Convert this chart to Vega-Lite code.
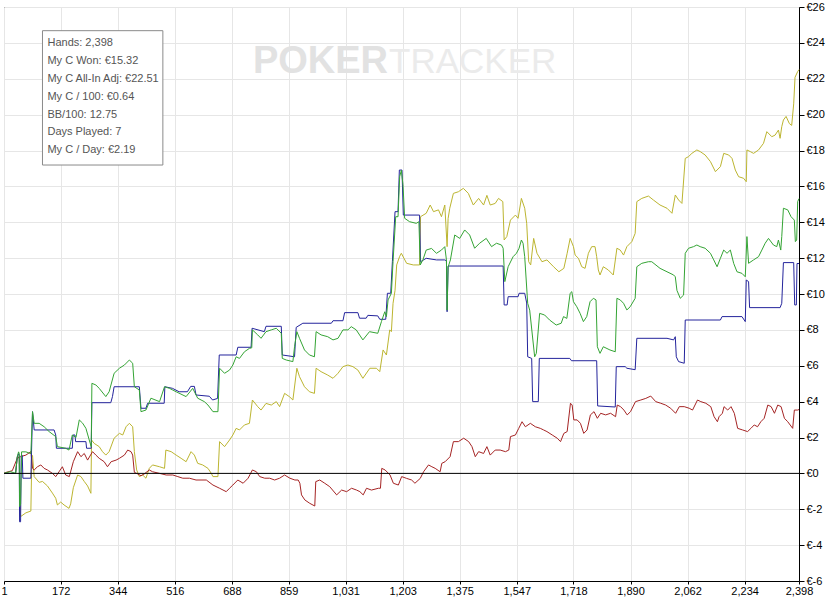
{
  "$schema": "https://vega.github.io/schema/vega-lite/v6.json",
  "width": 795,
  "height": 574,
  "autosize": "none",
  "padding": {"left": 4, "top": 7, "right": 28, "bottom": 21},
  "background": "white",
  "config": {
    "view": {"stroke": "black", "strokeWidth": 1},
    "font": "Liberation Sans",
    "axis": {"labelOverlap": false}
  },
  "resolve": {"axis": {"x": "independent", "y": "independent"}},
  "layer": [
    {
      "data": {
        "values": [
          {"s":"ev","h":1,"v":0},{"s":"ev","h":36,"v":0},{"s":"ev","h":41,"v":0.93},{"s":"ev","h":47,"v":0.9},{"s":"ev","h":51,"v":-2.41},{"s":"ev","h":67,"v":-2.2},{"s":"ev","h":82,"v":-2.1},{"s":"ev","h":85,"v":1.0},{"s":"ev","h":87,"v":1.0},{"s":"ev","h":92,"v":-0.18},{"s":"ev","h":107,"v":-0.5},{"s":"ev","h":117,"v":-0.45},{"s":"ev","h":132,"v":-0.7},{"s":"ev","h":147,"v":-1.1},{"s":"ev","h":157,"v":-1.39},{"s":"ev","h":162,"v":-1.76},{"s":"ev","h":172,"v":-1.6},{"s":"ev","h":182,"v":-1.76},{"s":"ev","h":197,"v":-1.95},{"s":"ev","h":202,"v":-1.7},{"s":"ev","h":210,"v":-0.8},{"s":"ev","h":223,"v":-0.09},{"s":"ev","h":233,"v":-0.18},{"s":"ev","h":243,"v":-0.45},{"s":"ev","h":253,"v":-0.7},{"s":"ev","h":263,"v":-1.11},{"s":"ev","h":265,"v":1.86},{"s":"ev","h":273,"v":1.67},{"s":"ev","h":288,"v":1.49},{"s":"ev","h":298,"v":1.21},{"s":"ev","h":308,"v":1.02},{"s":"ev","h":318,"v":1.21},{"s":"ev","h":333,"v":1.96},{"s":"ev","h":349,"v":2.23},{"s":"ev","h":359,"v":2.14},{"s":"ev","h":369,"v":2.6},{"s":"ev","h":379,"v":2.79},{"s":"ev","h":389,"v":2.6},{"s":"ev","h":394,"v":1.21},{"s":"ev","h":401,"v":0.19},{"s":"ev","h":409,"v":-0.18},{"s":"ev","h":419,"v":-0.09},{"s":"ev","h":429,"v":-0.27},{"s":"ev","h":439,"v":0.28},{"s":"ev","h":449,"v":0.47},{"s":"ev","h":470,"v":0.37},{"s":"ev","h":485,"v":0.28},{"s":"ev","h":489,"v":1.3},{"s":"ev","h":505,"v":1.21},{"s":"ev","h":520,"v":1.02},{"s":"ev","h":535,"v":0.84},{"s":"ev","h":550,"v":0.65},{"s":"ev","h":565,"v":1.21},{"s":"ev","h":575,"v":1.02},{"s":"ev","h":585,"v":0.56},{"s":"ev","h":600,"v":0.47},{"s":"ev","h":616,"v":0.28},{"s":"ev","h":626,"v":0.0},{"s":"ev","h":631,"v":-0.18},{"s":"ev","h":646,"v":-0.18},{"s":"ev","h":651,"v":1.77},{"s":"ev","h":666,"v":1.49},{"s":"ev","h":681,"v":1.86},{"s":"ev","h":691,"v":2.14},{"s":"ev","h":701,"v":2.51},{"s":"ev","h":711,"v":2.42},{"s":"ev","h":726,"v":2.7},{"s":"ev","h":741,"v":2.79},{"s":"ev","h":750,"v":4.09},{"s":"ev","h":766,"v":3.72},{"s":"ev","h":776,"v":3.53},{"s":"ev","h":791,"v":3.9},{"s":"ev","h":807,"v":3.81},{"s":"ev","h":822,"v":4.0},{"s":"ev","h":832,"v":3.72},{"s":"ev","h":847,"v":4.46},{"s":"ev","h":862,"v":4.27},{"s":"ev","h":872,"v":4.09},{"s":"ev","h":884,"v":5.86},{"s":"ev","h":892,"v":5.39},{"s":"ev","h":907,"v":4.83},{"s":"ev","h":922,"v":4.55},{"s":"ev","h":937,"v":4.46},{"s":"ev","h":942,"v":5.86},{"s":"ev","h":957,"v":5.67},{"s":"ev","h":977,"v":5.48},{"s":"ev","h":993,"v":5.3},{"s":"ev","h":1008,"v":5.58},{"s":"ev","h":1023,"v":5.95},{"s":"ev","h":1038,"v":6.04},{"s":"ev","h":1053,"v":5.95},{"s":"ev","h":1068,"v":5.76},{"s":"ev","h":1083,"v":5.3},{"s":"ev","h":1104,"v":5.86},{"s":"ev","h":1124,"v":5.86},{"s":"ev","h":1134,"v":5.67},{"s":"ev","h":1144,"v":6.88},{"s":"ev","h":1154,"v":6.6},{"s":"ev","h":1164,"v":8.0},{"s":"ev","h":1169,"v":7.9},{"s":"ev","h":1174,"v":9.48},{"s":"ev","h":1180,"v":10.2},{"s":"ev","h":1185,"v":11.62},{"s":"ev","h":1194,"v":12.1},{"s":"ev","h":1199,"v":12.27},{"s":"ev","h":1215,"v":11.71},{"s":"ev","h":1235,"v":11.62},{"s":"ev","h":1254,"v":11.62},{"s":"ev","h":1257,"v":14.31},{"s":"ev","h":1274,"v":14.5},{"s":"ev","h":1286,"v":14.96},{"s":"ev","h":1296,"v":14.59},{"s":"ev","h":1311,"v":14.69},{"s":"ev","h":1320,"v":14.31},{"s":"ev","h":1330,"v":14.96},{"s":"ev","h":1337,"v":12.64},{"s":"ev","h":1340,"v":14.2},{"s":"ev","h":1345,"v":14.78},{"s":"ev","h":1356,"v":15.61},{"s":"ev","h":1371,"v":15.7},{"s":"ev","h":1386,"v":15.89},{"s":"ev","h":1401,"v":15.61},{"s":"ev","h":1416,"v":14.96},{"s":"ev","h":1432,"v":15.33},{"s":"ev","h":1447,"v":14.96},{"s":"ev","h":1457,"v":15.5},{"s":"ev","h":1467,"v":14.96},{"s":"ev","h":1482,"v":15.05},{"s":"ev","h":1492,"v":15.33},{"s":"ev","h":1505,"v":15.15},{"s":"ev","h":1509,"v":13.01},{"s":"ev","h":1517,"v":13.2},{"s":"ev","h":1528,"v":14.12},{"s":"ev","h":1543,"v":14.4},{"s":"ev","h":1551,"v":14.22},{"s":"ev","h":1561,"v":15.33},{"s":"ev","h":1571,"v":14.78},{"s":"ev","h":1577,"v":13.94},{"s":"ev","h":1583,"v":11.8},{"s":"ev","h":1589,"v":11.62},{"s":"ev","h":1598,"v":13.1},{"s":"ev","h":1608,"v":12.27},{"s":"ev","h":1623,"v":11.8},{"s":"ev","h":1638,"v":11.9},{"s":"ev","h":1658,"v":11.52},{"s":"ev","h":1674,"v":11.24},{"s":"ev","h":1689,"v":11.43},{"s":"ev","h":1699,"v":12.27},{"s":"ev","h":1708,"v":13.1},{"s":"ev","h":1718,"v":12.64},{"s":"ev","h":1723,"v":12.17},{"s":"ev","h":1733,"v":11.99},{"s":"ev","h":1743,"v":11.52},{"s":"ev","h":1753,"v":11.43},{"s":"ev","h":1763,"v":12.27},{"s":"ev","h":1773,"v":12.64},{"s":"ev","h":1783,"v":12.64},{"s":"ev","h":1788,"v":12.08},{"s":"ev","h":1793,"v":11.34},{"s":"ev","h":1798,"v":11.06},{"s":"ev","h":1808,"v":11.52},{"s":"ev","h":1823,"v":11.34},{"s":"ev","h":1838,"v":11.06},{"s":"ev","h":1849,"v":12.55},{"s":"ev","h":1859,"v":12.45},{"s":"ev","h":1869,"v":12.17},{"s":"ev","h":1879,"v":12.64},{"s":"ev","h":1894,"v":12.92},{"s":"ev","h":1904,"v":13.38},{"s":"ev","h":1909,"v":15.15},{"s":"ev","h":1924,"v":15.33},{"s":"ev","h":1944,"v":15.46},{"s":"ev","h":1959,"v":15.24},{"s":"ev","h":1979,"v":14.96},{"s":"ev","h":2000,"v":14.78},{"s":"ev","h":2015,"v":14.5},{"s":"ev","h":2025,"v":15.52},{"s":"ev","h":2035,"v":15.24},{"s":"ev","h":2045,"v":15.05},{"s":"ev","h":2055,"v":17.56},{"s":"ev","h":2065,"v":17.66},{"s":"ev","h":2075,"v":17.84},{"s":"ev","h":2090,"v":18.03},{"s":"ev","h":2100,"v":17.94},{"s":"ev","h":2115,"v":17.75},{"s":"ev","h":2131,"v":17.38},{"s":"ev","h":2146,"v":16.82},{"s":"ev","h":2161,"v":17.1},{"s":"ev","h":2171,"v":17.84},{"s":"ev","h":2186,"v":17.75},{"s":"ev","h":2196,"v":17.56},{"s":"ev","h":2206,"v":16.91},{"s":"ev","h":2216,"v":16.54},{"s":"ev","h":2231,"v":16.45},{"s":"ev","h":2239,"v":16.26},{"s":"ev","h":2241,"v":18.03},{"s":"ev","h":2251,"v":17.94},{"s":"ev","h":2261,"v":17.84},{"s":"ev","h":2276,"v":18.03},{"s":"ev","h":2291,"v":18.4},{"s":"ev","h":2301,"v":19.05},{"s":"ev","h":2316,"v":18.77},{"s":"ev","h":2326,"v":18.86},{"s":"ev","h":2336,"v":19.14},{"s":"ev","h":2341,"v":18.68},{"s":"ev","h":2346,"v":19.33},{"s":"ev","h":2351,"v":19.7},{"s":"ev","h":2359,"v":19.9},{"s":"ev","h":2369,"v":19.5},{"s":"ev","h":2376,"v":19.4},{"s":"ev","h":2382,"v":20.6},{"s":"ev","h":2386,"v":22.08},{"s":"ev","h":2394,"v":22.4},{"s":"ev","h":2398,"v":22.51},

          {"s":"nsd","h":1,"v":0},{"s":"nsd","h":6,"v":0.05},{"s":"nsd","h":26,"v":0.15},{"s":"nsd","h":41,"v":0.84},{"s":"nsd","h":51,"v":0.93},{"s":"nsd","h":67,"v":1.02},{"s":"nsd","h":82,"v":1.21},{"s":"nsd","h":87,"v":0.28},{"s":"nsd","h":92,"v":0.19},{"s":"nsd","h":102,"v":0.37},{"s":"nsd","h":112,"v":0.47},{"s":"nsd","h":122,"v":0.28},{"s":"nsd","h":132,"v":0.19},{"s":"nsd","h":147,"v":0.0},{"s":"nsd","h":157,"v":-0.18},{"s":"nsd","h":167,"v":0.09},{"s":"nsd","h":177,"v":0.37},{"s":"nsd","h":187,"v":-0.09},{"s":"nsd","h":198,"v":-0.18},{"s":"nsd","h":210,"v":0.65},{"s":"nsd","h":223,"v":1.21},{"s":"nsd","h":233,"v":0.93},{"s":"nsd","h":243,"v":1.11},{"s":"nsd","h":253,"v":0.74},{"s":"nsd","h":268,"v":1.21},{"s":"nsd","h":278,"v":1.02},{"s":"nsd","h":288,"v":0.84},{"s":"nsd","h":303,"v":0.65},{"s":"nsd","h":313,"v":0.37},{"s":"nsd","h":324,"v":0.65},{"s":"nsd","h":339,"v":0.74},{"s":"nsd","h":349,"v":0.84},{"s":"nsd","h":364,"v":1.02},{"s":"nsd","h":374,"v":1.3},{"s":"nsd","h":384,"v":1.21},{"s":"nsd","h":389,"v":1.02},{"s":"nsd","h":394,"v":0.06},{"s":"nsd","h":404,"v":-0.03},{"s":"nsd","h":414,"v":-0.13},{"s":"nsd","h":424,"v":-0.03},{"s":"nsd","h":439,"v":0.19},{"s":"nsd","h":449,"v":0.09},{"s":"nsd","h":470,"v":0.0},{"s":"nsd","h":490,"v":-0.09},{"s":"nsd","h":510,"v":-0.09},{"s":"nsd","h":525,"v":-0.18},{"s":"nsd","h":540,"v":-0.27},{"s":"nsd","h":560,"v":-0.27},{"s":"nsd","h":580,"v":-0.37},{"s":"nsd","h":601,"v":-0.37},{"s":"nsd","h":611,"v":-0.37},{"s":"nsd","h":631,"v":-0.65},{"s":"nsd","h":651,"v":-0.83},{"s":"nsd","h":671,"v":-1.02},{"s":"nsd","h":681,"v":-0.83},{"s":"nsd","h":691,"v":-0.65},{"s":"nsd","h":706,"v":-0.37},{"s":"nsd","h":722,"v":-0.55},{"s":"nsd","h":737,"v":-0.27},{"s":"nsd","h":750,"v":0.19},{"s":"nsd","h":762,"v":0.09},{"s":"nsd","h":772,"v":-0.18},{"s":"nsd","h":787,"v":-0.27},{"s":"nsd","h":802,"v":-0.27},{"s":"nsd","h":817,"v":-0.37},{"s":"nsd","h":832,"v":-0.27},{"s":"nsd","h":847,"v":-0.09},{"s":"nsd","h":863,"v":-0.27},{"s":"nsd","h":878,"v":-0.37},{"s":"nsd","h":888,"v":-0.37},{"s":"nsd","h":893,"v":-0.55},{"s":"nsd","h":898,"v":-1.2},{"s":"nsd","h":908,"v":-1.48},{"s":"nsd","h":923,"v":-1.67},{"s":"nsd","h":938,"v":-1.82},{"s":"nsd","h":941,"v":-0.46},{"s":"nsd","h":953,"v":-0.37},{"s":"nsd","h":968,"v":-0.55},{"s":"nsd","h":983,"v":-0.74},{"s":"nsd","h":1004,"v":-1.2},{"s":"nsd","h":1019,"v":-0.93},{"s":"nsd","h":1034,"v":-1.02},{"s":"nsd","h":1049,"v":-0.83},{"s":"nsd","h":1064,"v":-0.93},{"s":"nsd","h":1074,"v":-1.02},{"s":"nsd","h":1084,"v":-1.2},{"s":"nsd","h":1094,"v":-0.83},{"s":"nsd","h":1109,"v":-0.93},{"s":"nsd","h":1130,"v":-0.83},{"s":"nsd","h":1136,"v":-0.83},{"s":"nsd","h":1140,"v":0.28},{"s":"nsd","h":1150,"v":0.19},{"s":"nsd","h":1165,"v":-0.09},{"s":"nsd","h":1175,"v":-0.55},{"s":"nsd","h":1190,"v":-0.65},{"s":"nsd","h":1200,"v":-0.18},{"s":"nsd","h":1215,"v":-0.28},{"s":"nsd","h":1230,"v":-0.37},{"s":"nsd","h":1240,"v":-0.55},{"s":"nsd","h":1256,"v":-0.28},{"s":"nsd","h":1266,"v":0.09},{"s":"nsd","h":1281,"v":0.47},{"s":"nsd","h":1291,"v":0.37},{"s":"nsd","h":1301,"v":0.28},{"s":"nsd","h":1316,"v":0.09},{"s":"nsd","h":1321,"v":0.56},{"s":"nsd","h":1331,"v":0.65},{"s":"nsd","h":1346,"v":0.93},{"s":"nsd","h":1356,"v":1.77},{"s":"nsd","h":1371,"v":1.77},{"s":"nsd","h":1387,"v":1.96},{"s":"nsd","h":1402,"v":1.77},{"s":"nsd","h":1412,"v":1.49},{"s":"nsd","h":1422,"v":0.93},{"s":"nsd","h":1432,"v":1.21},{"s":"nsd","h":1447,"v":1.11},{"s":"nsd","h":1457,"v":1.49},{"s":"nsd","h":1467,"v":1.02},{"s":"nsd","h":1482,"v":1.3},{"s":"nsd","h":1497,"v":1.3},{"s":"nsd","h":1513,"v":1.21},{"s":"nsd","h":1523,"v":1.3},{"s":"nsd","h":1528,"v":2.05},{"s":"nsd","h":1543,"v":2.14},{"s":"nsd","h":1553,"v":2.51},{"s":"nsd","h":1563,"v":2.88},{"s":"nsd","h":1573,"v":2.6},{"s":"nsd","h":1588,"v":2.79},{"s":"nsd","h":1603,"v":2.6},{"s":"nsd","h":1618,"v":2.51},{"s":"nsd","h":1628,"v":2.42},{"s":"nsd","h":1638,"v":2.33},{"s":"nsd","h":1654,"v":2.14},{"s":"nsd","h":1669,"v":1.96},{"s":"nsd","h":1679,"v":1.77},{"s":"nsd","h":1689,"v":2.23},{"s":"nsd","h":1699,"v":2.33},{"s":"nsd","h":1709,"v":3.91},{"s":"nsd","h":1714,"v":3.81},{"s":"nsd","h":1719,"v":2.98},{"s":"nsd","h":1729,"v":2.98},{"s":"nsd","h":1739,"v":2.79},{"s":"nsd","h":1749,"v":2.23},{"s":"nsd","h":1759,"v":2.42},{"s":"nsd","h":1769,"v":3.26},{"s":"nsd","h":1780,"v":3.44},{"s":"nsd","h":1790,"v":3.07},{"s":"nsd","h":1800,"v":3.35},{"s":"nsd","h":1815,"v":3.26},{"s":"nsd","h":1830,"v":3.35},{"s":"nsd","h":1845,"v":3.16},{"s":"nsd","h":1850,"v":3.81},{"s":"nsd","h":1860,"v":3.72},{"s":"nsd","h":1870,"v":3.53},{"s":"nsd","h":1880,"v":3.26},{"s":"nsd","h":1890,"v":3.44},{"s":"nsd","h":1905,"v":4.0},{"s":"nsd","h":1921,"v":4.09},{"s":"nsd","h":1936,"v":4.18},{"s":"nsd","h":1951,"v":4.31},{"s":"nsd","h":1966,"v":4.0},{"s":"nsd","h":1981,"v":3.91},{"s":"nsd","h":1996,"v":3.81},{"s":"nsd","h":2011,"v":3.63},{"s":"nsd","h":2026,"v":3.35},{"s":"nsd","h":2037,"v":3.72},{"s":"nsd","h":2052,"v":3.72},{"s":"nsd","h":2067,"v":3.63},{"s":"nsd","h":2077,"v":3.53},{"s":"nsd","h":2092,"v":4.09},{"s":"nsd","h":2102,"v":4.0},{"s":"nsd","h":2117,"v":3.91},{"s":"nsd","h":2132,"v":3.72},{"s":"nsd","h":2142,"v":3.16},{"s":"nsd","h":2152,"v":2.88},{"s":"nsd","h":2157,"v":3.16},{"s":"nsd","h":2167,"v":3.35},{"s":"nsd","h":2172,"v":3.72},{"s":"nsd","h":2183,"v":3.53},{"s":"nsd","h":2193,"v":3.72},{"s":"nsd","h":2203,"v":3.35},{"s":"nsd","h":2213,"v":2.51},{"s":"nsd","h":2228,"v":2.42},{"s":"nsd","h":2243,"v":2.33},{"s":"nsd","h":2253,"v":2.51},{"s":"nsd","h":2263,"v":2.7},{"s":"nsd","h":2273,"v":2.6},{"s":"nsd","h":2283,"v":2.88},{"s":"nsd","h":2293,"v":3.07},{"s":"nsd","h":2304,"v":3.81},{"s":"nsd","h":2314,"v":3.72},{"s":"nsd","h":2324,"v":3.35},{"s":"nsd","h":2334,"v":3.81},{"s":"nsd","h":2344,"v":3.72},{"s":"nsd","h":2354,"v":3.07},{"s":"nsd","h":2364,"v":2.88},{"s":"nsd","h":2379,"v":2.51},{"s":"nsd","h":2384,"v":3.53},{"s":"nsd","h":2394,"v":3.53},{"s":"nsd","h":2398,"v":3.56},

          {"s":"sd","h":1,"v":0},{"s":"sd","h":36,"v":0},{"s":"sd","h":41,"v":0.9},{"s":"sd","h":45,"v":1.1},{"s":"sd","h":47,"v":1.0},{"s":"sd","h":48,"v":-2.7},{"s":"sd","h":51,"v":-2.7},{"s":"sd","h":53,"v":1.0},{"s":"sd","h":56,"v":1.0},{"s":"sd","h":58,"v":-0.27},{"s":"sd","h":82,"v":-0.27},{"s":"sd","h":87,"v":3.44},{"s":"sd","h":92,"v":2.42},{"s":"sd","h":152,"v":2.42},{"s":"sd","h":157,"v":2.14},{"s":"sd","h":159,"v":1.4},{"s":"sd","h":207,"v":1.4},{"s":"sd","h":209,"v":2.14},{"s":"sd","h":215,"v":2.14},{"s":"sd","h":217,"v":1.77},{"s":"sd","h":248,"v":1.77},{"s":"sd","h":250,"v":1.4},{"s":"sd","h":264,"v":1.4},{"s":"sd","h":266,"v":3.94},{"s":"sd","h":323,"v":3.94},{"s":"sd","h":328,"v":4.28},{"s":"sd","h":333,"v":4.83},{"s":"sd","h":409,"v":4.83},{"s":"sd","h":414,"v":3.63},{"s":"sd","h":429,"v":3.63},{"s":"sd","h":434,"v":3.91},{"s":"sd","h":484,"v":3.91},{"s":"sd","h":486,"v":4.83},{"s":"sd","h":509,"v":4.74},{"s":"sd","h":529,"v":4.55},{"s":"sd","h":554,"v":4.55},{"s":"sd","h":564,"v":4.85},{"s":"sd","h":575,"v":4.85},{"s":"sd","h":580,"v":4.37},{"s":"sd","h":620,"v":4.3},{"s":"sd","h":630,"v":4.09},{"s":"sd","h":645,"v":4.18},{"s":"sd","h":650,"v":6.6},{"s":"sd","h":701,"v":6.6},{"s":"sd","h":706,"v":7.03},{"s":"sd","h":746,"v":7.03},{"s":"sd","h":749,"v":8.09},{"s":"sd","h":786,"v":7.9},{"s":"sd","h":791,"v":8.2},{"s":"sd","h":837,"v":8.2},{"s":"sd","h":840,"v":6.6},{"s":"sd","h":877,"v":6.5},{"s":"sd","h":882,"v":8.14},{"s":"sd","h":902,"v":8.37},{"s":"sd","h":988,"v":8.37},{"s":"sd","h":993,"v":8.51},{"s":"sd","h":1023,"v":8.51},{"s":"sd","h":1028,"v":8.96},{"s":"sd","h":1068,"v":8.96},{"s":"sd","h":1073,"v":8.65},{"s":"sd","h":1093,"v":8.65},{"s":"sd","h":1098,"v":8.81},{"s":"sd","h":1128,"v":8.78},{"s":"sd","h":1134,"v":8.59},{"s":"sd","h":1152,"v":8.59},{"s":"sd","h":1157,"v":10.04},{"s":"sd","h":1167,"v":10.04},{"s":"sd","h":1172,"v":11.8},{"s":"sd","h":1180,"v":14.59},{"s":"sd","h":1189,"v":14.59},{"s":"sd","h":1193,"v":16.91},{"s":"sd","h":1201,"v":16.91},{"s":"sd","h":1205,"v":14.4},{"s":"sd","h":1254,"v":14.4},{"s":"sd","h":1257,"v":11.8},{"s":"sd","h":1274,"v":11.99},{"s":"sd","h":1305,"v":11.9},{"s":"sd","h":1330,"v":11.9},{"s":"sd","h":1335,"v":11.85},{"s":"sd","h":1337,"v":9.01},{"s":"sd","h":1340,"v":11.56},{"s":"sd","h":1506,"v":11.56},{"s":"sd","h":1509,"v":9.39},{"s":"sd","h":1518,"v":9.39},{"s":"sd","h":1521,"v":9.85},{"s":"sd","h":1551,"v":9.85},{"s":"sd","h":1554,"v":10.04},{"s":"sd","h":1571,"v":10.04},{"s":"sd","h":1577,"v":9.5},{"s":"sd","h":1580,"v":6.5},{"s":"sd","h":1592,"v":6.41},{"s":"sd","h":1595,"v":4.0},{"s":"sd","h":1612,"v":4.0},{"s":"sd","h":1615,"v":6.41},{"s":"sd","h":1707,"v":6.41},{"s":"sd","h":1712,"v":6.28},{"s":"sd","h":1788,"v":6.28},{"s":"sd","h":1791,"v":3.76},{"s":"sd","h":1844,"v":3.7},{"s":"sd","h":1847,"v":5.95},{"s":"sd","h":1874,"v":5.95},{"s":"sd","h":1879,"v":5.86},{"s":"sd","h":1904,"v":5.78},{"s":"sd","h":1909,"v":7.53},{"s":"sd","h":2000,"v":7.53},{"s":"sd","h":2020,"v":7.44},{"s":"sd","h":2025,"v":7.62},{"s":"sd","h":2028,"v":6.5},{"s":"sd","h":2035,"v":6.23},{"s":"sd","h":2052,"v":6.14},{"s":"sd","h":2055,"v":8.55},{"s":"sd","h":2161,"v":8.55},{"s":"sd","h":2166,"v":8.74},{"s":"sd","h":2226,"v":8.74},{"s":"sd","h":2236,"v":8.46},{"s":"sd","h":2239,"v":10.78},{"s":"sd","h":2246,"v":10.69},{"s":"sd","h":2249,"v":9.24},{"s":"sd","h":2341,"v":9.24},{"s":"sd","h":2346,"v":9.48},{"s":"sd","h":2351,"v":11.75},{"s":"sd","h":2382,"v":11.75},{"s":"sd","h":2385,"v":9.39},{"s":"sd","h":2390,"v":9.39},{"s":"sd","h":2392,"v":11.7},{"s":"sd","h":2398,"v":11.7},

          {"s":"won","h":1,"v":0},{"s":"won","h":20,"v":0.1},{"s":"won","h":36,"v":0},{"s":"won","h":41,"v":0.93},{"s":"won","h":45,"v":1.2},{"s":"won","h":47,"v":1.1},{"s":"won","h":48,"v":-1.85},{"s":"won","h":51,"v":-1.7},{"s":"won","h":54,"v":1.2},{"s":"won","h":67,"v":1.2},{"s":"won","h":82,"v":1.1},{"s":"won","h":87,"v":3.44},{"s":"won","h":92,"v":2.79},{"s":"won","h":107,"v":2.79},{"s":"won","h":122,"v":2.6},{"s":"won","h":137,"v":2.33},{"s":"won","h":157,"v":2.05},{"s":"won","h":162,"v":1.49},{"s":"won","h":187,"v":1.4},{"s":"won","h":197,"v":1.3},{"s":"won","h":207,"v":2.14},{"s":"won","h":218,"v":2.0},{"s":"won","h":228,"v":2.98},{"s":"won","h":238,"v":2.8},{"s":"won","h":248,"v":2.51},{"s":"won","h":258,"v":1.86},{"s":"won","h":264,"v":1.49},{"s":"won","h":266,"v":5.02},{"s":"won","h":278,"v":4.93},{"s":"won","h":288,"v":4.74},{"s":"won","h":308,"v":4.28},{"s":"won","h":318,"v":4.55},{"s":"won","h":333,"v":5.58},{"s":"won","h":349,"v":5.86},{"s":"won","h":364,"v":6.04},{"s":"won","h":379,"v":6.32},{"s":"won","h":389,"v":6.14},{"s":"won","h":394,"v":4.83},{"s":"won","h":409,"v":4.65},{"s":"won","h":414,"v":3.44},{"s":"won","h":429,"v":3.53},{"s":"won","h":444,"v":4.19},{"s":"won","h":470,"v":4.0},{"s":"won","h":485,"v":4.83},{"s":"won","h":500,"v":4.74},{"s":"won","h":520,"v":4.55},{"s":"won","h":550,"v":4.28},{"s":"won","h":570,"v":4.74},{"s":"won","h":585,"v":4.19},{"s":"won","h":605,"v":4.0},{"s":"won","h":616,"v":3.81},{"s":"won","h":631,"v":3.44},{"s":"won","h":646,"v":3.44},{"s":"won","h":651,"v":5.86},{"s":"won","h":666,"v":5.58},{"s":"won","h":681,"v":5.76},{"s":"won","h":691,"v":6.04},{"s":"won","h":701,"v":6.5},{"s":"won","h":711,"v":6.41},{"s":"won","h":726,"v":6.78},{"s":"won","h":741,"v":6.97},{"s":"won","h":748,"v":7.0},{"s":"won","h":750,"v":8.0},{"s":"won","h":766,"v":7.72},{"s":"won","h":776,"v":7.53},{"s":"won","h":791,"v":7.9},{"s":"won","h":807,"v":8.0},{"s":"won","h":822,"v":8.09},{"s":"won","h":837,"v":7.81},{"s":"won","h":840,"v":6.41},{"s":"won","h":852,"v":6.32},{"s":"won","h":872,"v":6.23},{"s":"won","h":877,"v":7.06},{"s":"won","h":884,"v":7.9},{"s":"won","h":892,"v":7.53},{"s":"won","h":907,"v":6.88},{"s":"won","h":922,"v":6.6},{"s":"won","h":937,"v":6.5},{"s":"won","h":942,"v":7.9},{"s":"won","h":957,"v":7.72},{"s":"won","h":977,"v":7.62},{"s":"won","h":993,"v":7.44},{"s":"won","h":1008,"v":7.53},{"s":"won","h":1023,"v":8.0},{"s":"won","h":1038,"v":8.0},{"s":"won","h":1048,"v":8.18},{"s":"won","h":1063,"v":8.0},{"s":"won","h":1083,"v":7.44},{"s":"won","h":1103,"v":7.9},{"s":"won","h":1128,"v":7.81},{"s":"won","h":1139,"v":8.46},{"s":"won","h":1149,"v":9.01},{"s":"won","h":1154,"v":8.74},{"s":"won","h":1159,"v":9.67},{"s":"won","h":1169,"v":10.04},{"s":"won","h":1174,"v":11.8},{"s":"won","h":1182,"v":14.31},{"s":"won","h":1189,"v":14.31},{"s":"won","h":1194,"v":16.54},{"s":"won","h":1199,"v":16.9},{"s":"won","h":1204,"v":16.1},{"s":"won","h":1209,"v":14.22},{"s":"won","h":1224,"v":14.03},{"s":"won","h":1244,"v":13.94},{"s":"won","h":1252,"v":14.03},{"s":"won","h":1256,"v":11.62},{"s":"won","h":1264,"v":11.9},{"s":"won","h":1274,"v":12.45},{"s":"won","h":1290,"v":12.54},{"s":"won","h":1305,"v":12.27},{"s":"won","h":1320,"v":12.45},{"s":"won","h":1330,"v":12.64},{"s":"won","h":1335,"v":11.9},{"s":"won","h":1337,"v":9.1},{"s":"won","h":1340,"v":11.5},{"s":"won","h":1347,"v":11.9},{"s":"won","h":1360,"v":13.29},{"s":"won","h":1375,"v":13.1},{"s":"won","h":1390,"v":13.57},{"s":"won","h":1405,"v":13.29},{"s":"won","h":1420,"v":12.55},{"s":"won","h":1435,"v":12.83},{"s":"won","h":1455,"v":13.1},{"s":"won","h":1471,"v":12.64},{"s":"won","h":1486,"v":12.83},{"s":"won","h":1501,"v":12.73},{"s":"won","h":1506,"v":12.55},{"s":"won","h":1511,"v":10.69},{"s":"won","h":1521,"v":11.52},{"s":"won","h":1536,"v":12.08},{"s":"won","h":1546,"v":12.27},{"s":"won","h":1554,"v":12.55},{"s":"won","h":1561,"v":13.01},{"s":"won","h":1566,"v":12.83},{"s":"won","h":1571,"v":12.08},{"s":"won","h":1580,"v":9.48},{"s":"won","h":1586,"v":9.1},{"s":"won","h":1601,"v":6.5},{"s":"won","h":1606,"v":6.69},{"s":"won","h":1616,"v":8.92},{"s":"won","h":1631,"v":8.83},{"s":"won","h":1646,"v":8.55},{"s":"won","h":1666,"v":8.27},{"s":"won","h":1681,"v":8.37},{"s":"won","h":1688,"v":8.74},{"s":"won","h":1698,"v":8.64},{"s":"won","h":1708,"v":10.04},{"s":"won","h":1713,"v":10.13},{"s":"won","h":1718,"v":9.57},{"s":"won","h":1728,"v":9.29},{"s":"won","h":1738,"v":8.92},{"s":"won","h":1748,"v":8.46},{"s":"won","h":1758,"v":8.74},{"s":"won","h":1768,"v":9.57},{"s":"won","h":1778,"v":9.76},{"s":"won","h":1786,"v":9.67},{"s":"won","h":1790,"v":7.06},{"s":"won","h":1798,"v":6.69},{"s":"won","h":1808,"v":7.06},{"s":"won","h":1828,"v":6.88},{"s":"won","h":1844,"v":6.78},{"s":"won","h":1849,"v":9.76},{"s":"won","h":1859,"v":9.67},{"s":"won","h":1869,"v":9.48},{"s":"won","h":1879,"v":9.11},{"s":"won","h":1889,"v":9.29},{"s":"won","h":1904,"v":9.76},{"s":"won","h":1909,"v":11.52},{"s":"won","h":1924,"v":11.71},{"s":"won","h":1944,"v":11.8},{"s":"won","h":1954,"v":11.8},{"s":"won","h":1979,"v":11.43},{"s":"won","h":2000,"v":11.24},{"s":"won","h":2020,"v":11.06},{"s":"won","h":2025,"v":10.96},{"s":"won","h":2030,"v":10.2},{"s":"won","h":2040,"v":9.76},{"s":"won","h":2050,"v":9.94},{"s":"won","h":2055,"v":12.27},{"s":"won","h":2065,"v":12.55},{"s":"won","h":2080,"v":12.64},{"s":"won","h":2090,"v":12.73},{"s":"won","h":2100,"v":12.64},{"s":"won","h":2115,"v":12.55},{"s":"won","h":2131,"v":12.27},{"s":"won","h":2141,"v":11.9},{"s":"won","h":2151,"v":11.52},{"s":"won","h":2161,"v":11.99},{"s":"won","h":2171,"v":12.45},{"s":"won","h":2181,"v":12.27},{"s":"won","h":2191,"v":12.45},{"s":"won","h":2201,"v":11.71},{"s":"won","h":2211,"v":11.24},{"s":"won","h":2226,"v":11.15},{"s":"won","h":2236,"v":10.96},{"s":"won","h":2241,"v":13.2},{"s":"won","h":2246,"v":11.71},{"s":"won","h":2261,"v":11.9},{"s":"won","h":2276,"v":12.08},{"s":"won","h":2286,"v":12.45},{"s":"won","h":2296,"v":12.83},{"s":"won","h":2306,"v":13.1},{"s":"won","h":2321,"v":12.73},{"s":"won","h":2331,"v":12.64},{"s":"won","h":2336,"v":13.01},{"s":"won","h":2343,"v":12.45},{"s":"won","h":2346,"v":13.2},{"s":"won","h":2351,"v":14.78},{"s":"won","h":2364,"v":14.69},{"s":"won","h":2374,"v":14.31},{"s":"won","h":2384,"v":14.12},{"s":"won","h":2387,"v":12.92},{"s":"won","h":2391,"v":13.01},{"s":"won","h":2394,"v":15.15},{"s":"won","h":2398,"v":15.32}
        ]
      },
      "mark": {"type": "line", "strokeWidth": 1},
      "encoding": {
        "x": {
          "field": "h",
          "type": "quantitative",
          "scale": {"domain": [1, 2398], "nice": false, "zero": false},
          "axis": {
            "orient": "bottom",
            "values": [1, 172, 344, 516, 688, 859, 1031, 1203, 1375, 1547, 1718, 1890, 2062, 2234, 2398],
            "format": ",d",
            "title": null,
            "grid": true,
            "gridColor": "#e6e6e6",
            "domainColor": "black",
            "tickColor": "black",
            "tickSize": 3,
            "labelColor": "black",
            "labelFontSize": 11,
            "labelPadding": 1,
            "labelFlush": false,
            "labelOverlap": false
          }
        },
        "y": {
          "field": "v",
          "type": "quantitative",
          "scale": {"domain": [-6, 26], "nice": false, "zero": false},
          "axis": {
            "orient": "right",
            "values": [-6, -4, -2, 0, 2, 4, 6, 8, 10, 12, 14, 16, 18, 20, 22, 24, 26],
            "labelExpr": "'€' + datum.value",
            "title": null,
            "grid": true,
            "gridColor": "#e6e6e6",
            "domainColor": "black",
            "tickColor": "black",
            "tickSize": 5,
            "labelColor": "black",
            "labelFontSize": 11,
            "labelPadding": 2,
            "labelOverlap": false
          }
        },
        "color": {
          "field": "s",
          "type": "nominal",
          "scale": {"domain": ["ev", "nsd", "sd", "won"], "range": ["#bcb530", "#a52424", "#24249c", "#34a434"]},
          "legend": null
        },
        "order": {"field": "h", "type": "quantitative"}
      }
    },
    {
      "data": {"values": [{"t": "POKER", "h": 1159, "v": 22.3}]},
      "mark": {"type": "text", "align": "right", "baseline": "alphabetic", "fontSize": 38, "fontWeight": "bold", "color": "#e2e2e2"},
      "encoding": {
        "x": {"field": "h", "type": "quantitative", "axis": null},
        "y": {"field": "v", "type": "quantitative", "axis": null},
        "text": {"field": "t"}
      }
    },
    {
      "data": {"values": [{"t": "TRACKER", "h": 1162, "v": 22.3}]},
      "mark": {"type": "text", "align": "left", "baseline": "alphabetic", "fontSize": 35, "color": "#ebebeb"},
      "encoding": {
        "x": {"field": "h", "type": "quantitative", "axis": null},
        "y": {"field": "v", "type": "quantitative", "axis": null},
        "text": {"field": "t"}
      }
    },
    {
      "data": {"values": [{"v": 0}]},
      "mark": {"type": "rule", "color": "black", "strokeWidth": 1},
      "encoding": {"y": {"field": "v", "type": "quantitative", "axis": null}}
    },
    {
      "data": {"values": [{"x1": 117, "x2": 480, "y1": 24.68, "y2": 17.19}]},
      "mark": {"type": "rect", "fill": "white", "stroke": "#8a8a8a", "strokeWidth": 1},
      "encoding": {
        "x": {"field": "x1", "type": "quantitative", "axis": null},
        "x2": {"field": "x2"},
        "y": {"field": "y1", "type": "quantitative", "axis": null},
        "y2": {"field": "y2"}
      }
    },
    {
      "data": {
        "values": [
          {"t": "Hands: 2,398", "h": 132, "v": 24.0},
          {"t": "My C Won: €15.32", "h": 132, "v": 23.0},
          {"t": "My C All-In Adj: €22.51", "h": 132, "v": 22.0},
          {"t": "My C / 100: €0.64", "h": 132, "v": 21.0},
          {"t": "BB/100: 12.75", "h": 132, "v": 20.0},
          {"t": "Days Played: 7", "h": 132, "v": 19.03},
          {"t": "My C / Day: €2.19", "h": 132, "v": 18.03}
        ]
      },
      "mark": {"type": "text", "align": "left", "baseline": "middle", "fontSize": 11, "color": "#555555"},
      "encoding": {
        "x": {"field": "h", "type": "quantitative", "axis": null},
        "y": {"field": "v", "type": "quantitative", "axis": null},
        "text": {"field": "t"}
      }
    }
  ]
}
